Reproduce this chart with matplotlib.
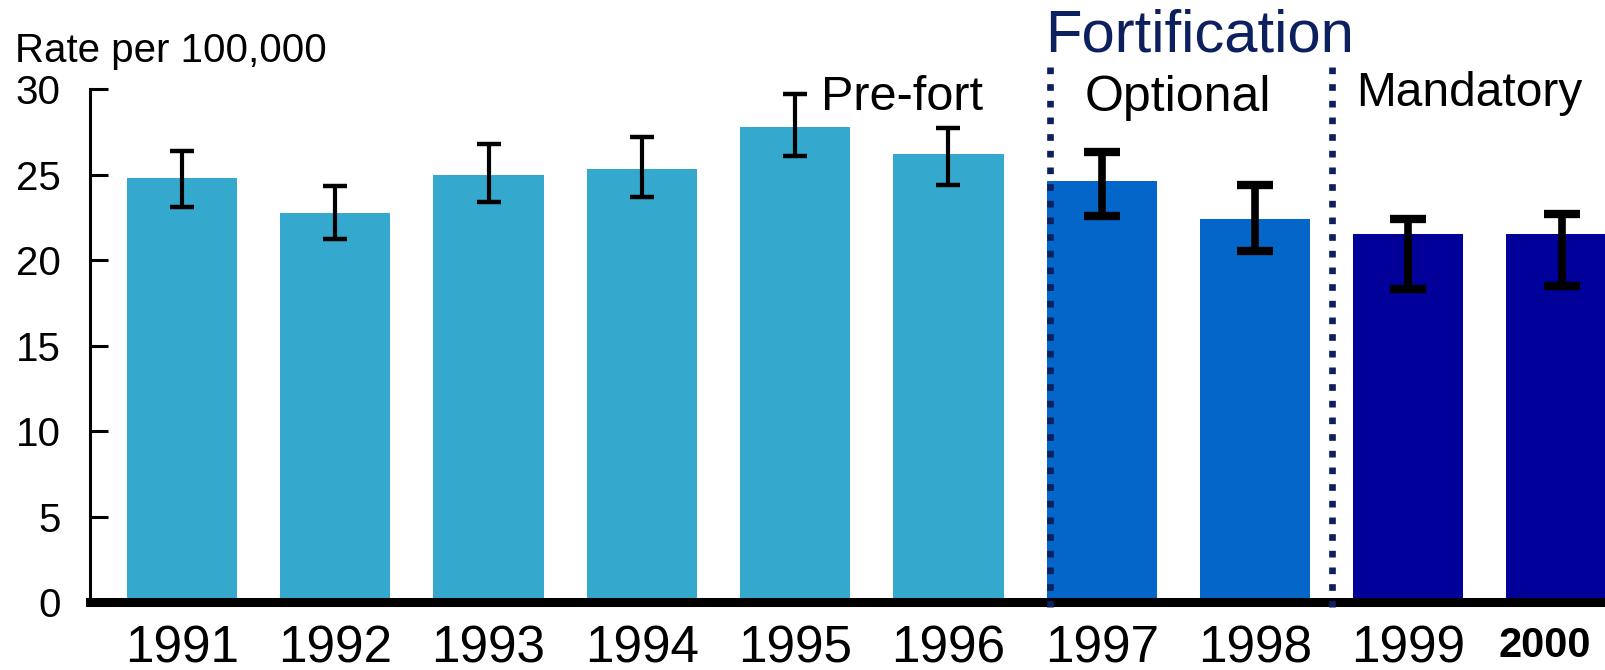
import matplotlib
matplotlib.use("Agg")
import matplotlib.pyplot as plt
import matplotlib.transforms as mtransforms
import numpy as np

plt.rcParams['font.family'] = ['Liberation Sans', 'DejaVu Sans']

years = ['1991', '1992', '1993', '1994', '1995', '1996', '1997', '1998', '1999', '2000']
rates = [24.8, 22.75, 25.0, 25.3, 27.8, 26.2, 24.6, 22.4, 21.5, 21.5]
err_hi = [26.4, 24.3, 26.8, 27.2, 29.7, 27.7, 26.3, 24.4, 22.4, 22.7]
err_lo = [23.1, 21.2, 23.4, 23.7, 26.1, 24.4, 22.6, 20.5, 18.3, 18.5]
periods = ['pre', 'pre', 'pre', 'pre', 'pre', 'pre', 'opt', 'opt', 'man', 'man']
yticks = [0, 5, 10, 15, 20, 25, 30]

period_colors = {'pre': '#35A9CD', 'opt': '#0466C9', 'man': '#010199'}
navy = '#0C1F5E'

fig = plt.figure(figsize=(16.06, 6.70), dpi=100)
W, H = 1606, 670
ax = fig.add_axes([90 / W, (H - 602) / H, 1 - 90 / W, (602 - 89) / H])

x = np.arange(len(years))
colors = [period_colors[p] for p in periods]
bw = 0.72
ax.bar(x, rates, width=bw, color=colors, edgecolor=colors, linewidth=0, zorder=2)

rates_a = np.array(rates)
lo = rates_a - np.array(err_lo)
hi = np.array(err_hi) - rates_a
pre = np.array([p == 'pre' for p in periods])
post = ~pre
ax.errorbar(x[pre], rates_a[pre], yerr=[lo[pre], hi[pre]], fmt='none',
            ecolor='black', elinewidth=3.0, capsize=8.5, capthick=3.2, zorder=3)
ax.errorbar(x[post], rates_a[post], yerr=[lo[post], hi[post]], fmt='none',
            ecolor='black', elinewidth=5.5, capsize=13, capthick=6, zorder=3,
            solid_capstyle='round')

ax.set_xlim(-0.6, 9.29)
ax.set_ylim(0, 30)

for s in ['top', 'right']:
    ax.spines[s].set_visible(False)
ax.spines['left'].set_linewidth(2.2)
ax.spines['bottom'].set_linewidth(6.5)
ax.spines['bottom'].set_zorder(4)

ax.set_yticks(yticks)
ax.set_yticklabels([str(t) for t in yticks])
ax.tick_params(axis='y', direction='in', length=13, width=2.2, pad=21,
               labelsize=29)
ax.set_xticks(x)
ax.set_xticklabels(years)
ax.tick_params(axis='x', length=0, pad=16, labelsize=37)
for lbl in ax.get_xticklabels():
    if lbl.get_text() == '2000':
        lbl.set_fontweight('bold')
        lbl.set_fontsize(30)
        lbl.set_transform(lbl.get_transform() +
                          mtransforms.ScaledTranslation(-17 / 100, -2 / 100,
                                                        fig.dpi_scale_trans))

# period separators
sep1 = 6 - bw / 2 + 0.02
sep2 = 7.5
for sx in (sep1, sep2):
    ax.plot([sx, sx], [-0.3, 31.8], linestyle=(0, (1, 1.5)), color=navy,
            linewidth=4.8, clip_on=False, zorder=5)

ax.text(-1.09, 32.2, 'Rate per 100,000', fontsize=29,
        ha='left', va='center', clip_on=False)
ax.text(4.7, 29.5, 'Pre-fort', fontsize=35, ha='center', va='center')
ax.text(6.5, 29.5, 'Optional', fontsize=36, ha='center', va='center')
ax.text(8.4, 29.75, 'Mandatory', fontsize=34.5, ha='center', va='center',
        clip_on=False)
ax.text(6.64, 33.1, 'Fortification', fontsize=43, ha='center', va='center',
        color=navy, clip_on=False)

fig.savefig('out.png', dpi=100)
